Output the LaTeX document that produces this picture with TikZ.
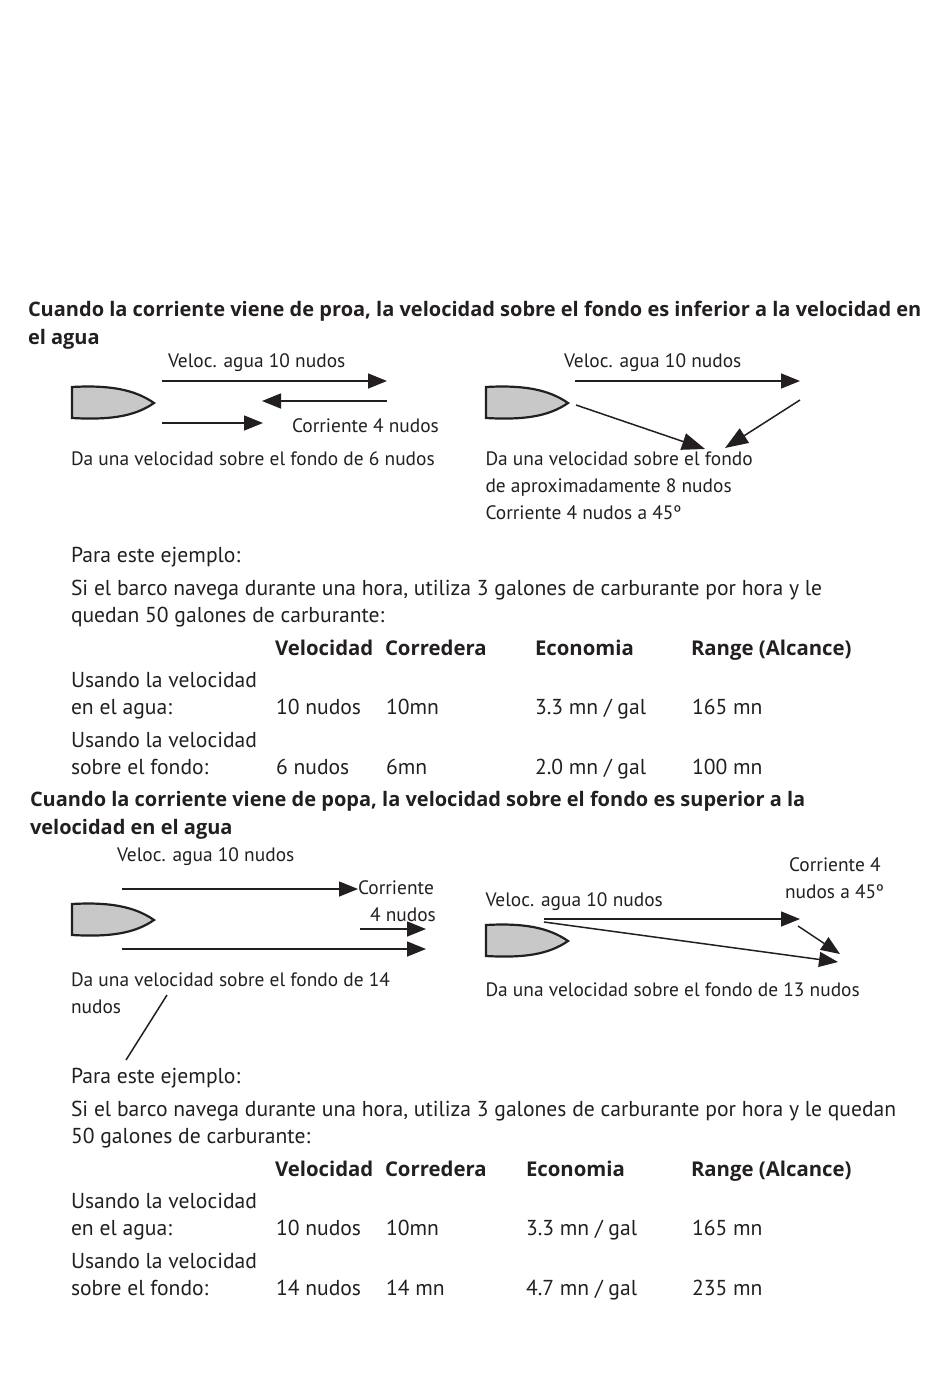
\documentclass[tikz,border=0pt]{standalone}
\usepackage{fontspec}
\setmainfont{PT Sans}
\newfontfamily\headfont{Open Sans}
\usepackage{xcolor}
\usetikzlibrary{arrows.meta,positioning}
\definecolor{InkBlack}{HTML}{231F20}
\definecolor{HullGray}{HTML}{C8C8C8}
\begin{document}
\begin{tikzpicture}[
  x=1pt,y=-1pt,
  txt/.style={anchor=base west,inner sep=0pt,outer sep=0pt,text=InkBlack,font=\fontsize{21.6}{25}\selectfont},
  small/.style={txt,font=\fontsize{19.4}{22}\selectfont},
  head/.style={txt,font=\headfont\fontsize{20.35}{25}\selectfont\bfseries},
  title/.style={txt,font=\headfont\fontsize{20}{25}\selectfont\bfseries},
  arrow/.style={-{Triangle[length=19pt,width=15pt]},line width=1.5pt,draw=InkBlack},
  bigarrow/.style={-{Triangle[length=23pt,width=17pt]},line width=1.5pt,draw=InkBlack},
  hull/.pic={\draw[line width=2.2pt,draw=InkBlack,fill=HullGray,miter limit=4] (0,0) .. controls (36,-2) and (62,2) .. (82,16) .. controls (62,30) and (36,33) .. (0,31) -- cycle;}
]
\useasboundingbox (0,0) rectangle (950,1383);
% upper part
\node[title] (title1a) at (28,316) {Cuando la corriente viene de proa, la velocidad sobre el fondo es inferior a la velocidad en};
\node[title] (title1b) at (28,344) {el agua};
\pic at (72,387) {hull};
\pic at (486,387) {hull};
\node[small] (veloc1) at (168,367) {Veloc. agua 10 nudos};
\node[small] (corr1) at (292,432) {Corriente 4 nudos};
\node[small] (da1) at (71,465) {Da una velocidad sobre el fondo de 6 nudos};
\node[small] (veloc2) at (564,367) {Veloc. agua 10 nudos};
\node[small] (da2) at (485.5,465) {Da una velocidad sobre el fondo};
\node[small] (da2b) at (485.5,492) {de aproximadamente 8 nudos};
\node[small] (da2c) at (485.5,519) {Corriente 4 nudos a 45º};
\coordinate (a1) at (162,381); \coordinate (a2) at (387,381);
\coordinate (b1) at (387,401); \coordinate (b2) at (262,401);
\coordinate (c1) at (162,423); \coordinate (c2) at (263,423);
\coordinate (d1) at (575,381); \coordinate (d2) at (800,381);
\coordinate (e1) at (576,405); \coordinate (e2) at (705,449);
\coordinate (f1) at (800,400); \coordinate (f2) at (725,448);
\draw[arrow] (a1)--(a2);
\draw[arrow] (b1)--(b2);
\draw[arrow] (c1)--(c2);
\draw[arrow] (d1)--(d2);
\draw[bigarrow] (e1)--(e2);
\draw[bigarrow] (f1)--(f2);
\node[txt] (para1) at (71,562) {Para este ejemplo:};
\node[txt] (si1) at (71,595) {Si el barco navega durante una hora, utiliza 3 galones de carburante por hora y le};
\node[txt] (si1b) at (71,622) {quedan 50 galones de carburante:};
\node[head] (hv1) at (275,655) {Velocidad};
\node[head] (hc1) at (385,655) {Corredera};
\node[head] (he1) at (535,655) {Economia};
\node[head] (hr1) at (691,655) {Range (Alcance)};
\node[txt] (ua1) at (71,687) {Usando la velocidad};
\node[txt] (ub1) at (71,714) {en el agua:};
\node[txt] (uc1) at (276,714) {10 nudos};
\node[txt] (ud1) at (386,714) {10mn};
\node[txt] (ue1) at (535,714) {3.3 mn / gal};
\node[txt] (uf1) at (692,714) {165 mn};
\node[txt] (fa1) at (71,747) {Usando la velocidad};
\node[txt] (fb1) at (71,774) {sobre el fondo:};
\node[txt] (fc1) at (276,774) {6 nudos};
\node[txt] (fd1) at (386,774) {6mn};
\node[txt] (fe1) at (535,774) {2.0 mn / gal};
\node[txt] (ff1) at (692,774) {100 mn};
% lower part
\node[title] (title2a) at (30,806) {Cuando la corriente viene de popa, la velocidad sobre el fondo es superior a la};
\node[title] (title2b) at (30,834) {velocidad en el agua};
\pic at (72,904) {hull};
\pic at (486,925) {hull};
\node[small] (veloc3) at (117,861) {Veloc. agua 10 nudos};
\node[small] (corr3) at (358,894) {Corriente};
\node[small] (corr3b) at (370,921) {4 nudos};
\node[small] (da3) at (71,986) {Da una velocidad sobre el fondo de 14};
\node[small] (da3b) at (71,1013) {nudos};
\node[small] (veloc4) at (485.5,906) {Veloc. agua 10 nudos};
\node[small] (corr4) at (789,871) {Corriente 4};
\node[small] (corr4b) at (785,898) {nudos a 45º};
\node[small] (da4) at (485.5,996) {Da una velocidad sobre el fondo de 13 nudos};
\coordinate (g1) at (122,889); \coordinate (g2) at (358,889);
\coordinate (h1) at (360,929); \coordinate (h2) at (426,929);
\coordinate (i1) at (122,949); \coordinate (i2) at (426,949);
\coordinate (j1) at (167,995); \coordinate (j2) at (126,1060);
\coordinate (k1) at (544,919); \coordinate (k2) at (800,919);
\coordinate (l1) at (544,922); \coordinate (l2) at (838,962);
\coordinate (m1) at (798,926); \coordinate (m2) at (840,954);
\draw[arrow] (g1)--(g2);
\draw[arrow] (h1)--(h2);
\draw[arrow] (i1)--(i2);
\draw[line width=1.5pt,draw=InkBlack] (j1)--(j2);
\draw[arrow] (k1)--(k2);
\draw[arrow] (l1)--(l2);
\draw[arrow] (m1)--(m2);
\node[txt] (para2) at (71,1083) {Para este ejemplo:};
\node[txt] (si2) at (71,1116) {Si el barco navega durante una hora, utiliza 3 galones de carburante por hora y le quedan};
\node[txt] (si2b) at (71,1143) {50 galones de carburante:};
\node[head] (hv2) at (275,1176) {Velocidad};
\node[head] (hc2) at (385,1176) {Corredera};
\node[head] (he2) at (526,1176) {Economia};
\node[head] (hr2) at (691,1176) {Range (Alcance)};
\node[txt] (ua2) at (71,1208) {Usando la velocidad};
\node[txt] (ub2) at (71,1235) {en el agua:};
\node[txt] (uc2) at (276,1235) {10 nudos};
\node[txt] (ud2) at (386,1235) {10mn};
\node[txt] (ue2) at (526,1235) {3.3 mn / gal};
\node[txt] (uf2) at (692,1235) {165 mn};
\node[txt] (fa2) at (71,1268) {Usando la velocidad};
\node[txt] (fb2) at (71,1295) {sobre el fondo:};
\node[txt] (fc2) at (276,1295) {14 nudos};
\node[txt] (fd2) at (386,1295) {14 mn};
\node[txt] (fe2) at (526,1295) {4.7 mn / gal};
\node[txt] (ff2) at (692,1295) {235 mn};
\end{tikzpicture}
\end{document}
